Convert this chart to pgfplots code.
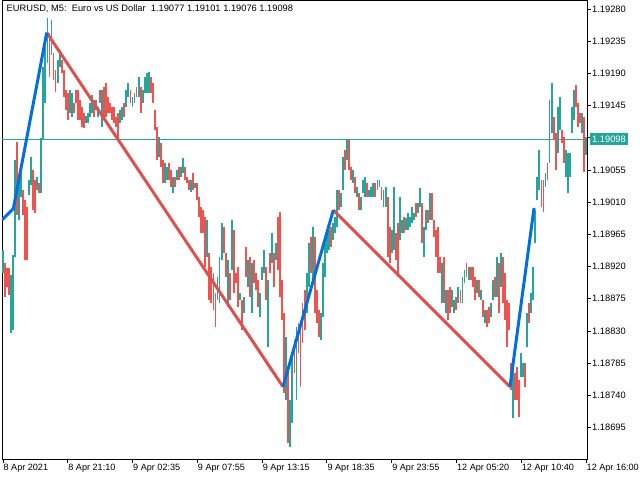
\documentclass[border=0pt]{standalone}
\usepackage{fontspec}
\setmainfont{Liberation Sans}
\usepackage{pgfplots}
\usepackage{pgfplotstable}
\pgfplotsset{compat=1.18}
\definecolor{upc}{RGB}{38,166,154}
\definecolor{dnc}{RGB}{239,83,80}
\definecolor{zzb}{RGB}{0,112,224}
\definecolor{zzr}{RGB}{221,81,76}
% EURUSD M5 candles: bar index, low, high (price in points, 1 point = 0.00001)
% rising candles
\pgfplotstableread{
b lo hi
0 18911 18943
8 18827 18908
10 18831 18936
12 18933 19069
16 18985 19048
18 19017 19051
26 19020 19041
28 19034 19073
34 19027 19045
38 19023 19100
40 19097 19199
42 19149 19227
44 19205 19267
48 19216 19265
54 19177 19209
56 19199 19223
66 19135 19167
68 19129 19163
82 19121 19131
84 19121 19135
86 19129 19149
88 19135 19160
92 19139 19153
94 19129 19143
98 19115 19167
116 19121 19139
118 19125 19143
122 19143 19167
124 19157 19177
128 19143 19157
130 19149 19163
134 19157 19185
138 19149 19167
140 19163 19185
142 19163 19191
144 19163 19192
154 19073 19101
160 19037 19065
162 19041 19059
168 19023 19045
172 19041 19055
176 19045 19059
178 19051 19072
186 19024 19041
190 19030 19037
202 18933 18985
212 18873 18906
214 18869 18933
216 18929 18981
222 18864 18929
226 18915 18985
234 18873 18883
238 18855 18878
242 18892 18929
246 18855 18925
254 18850 18883
256 18901 18920
258 18911 18943
262 18808 18901
266 18925 18967
270 18929 18953
280 18734 18822
284 18668 18734
286 18701 18799
290 18734 18836
300 18855 18911
302 18892 18953
306 18897 18975
314 18817 18855
316 18850 18925
318 18906 18953
320 18939 18967
322 18943 18971
326 18957 18981
328 18967 18989
330 18975 19027
334 19003 19023
336 19027 19073
340 19069 19097
346 19037 19055
350 19017 19031
354 18999 19017
356 19023 19041
358 19017 19045
362 19017 19027
364 19017 19031
366 19017 19037
370 19027 19041
372 19031 19041
376 19003 19027
378 19003 19031
384 18939 18971
386 18943 19031
392 18957 19017
394 18967 18985
398 18971 18988
400 18971 18995
402 18975 18989
404 18981 19003
406 18985 18995
410 18995 19009
412 19003 19030
416 18933 18975
418 18971 18999
422 18985 19023
434 18869 18925
438 18855 18887
444 18864 18887
446 18855 18873
450 18869 18892
454 18869 18906
456 18897 18915
460 18901 18920
468 18883 18901
472 18873 18887
476 18841 18859
482 18850 18869
484 18873 18901
488 18878 18933
492 18892 18939
504 18708 18776
512 18766 18799
514 18766 18785
518 18808 18855
522 18855 18883
524 18873 18920
526 18953 18999
528 19013 19045
530 19027 19083
536 19031 19051
540 19065 19153
542 19107 19177
548 19079 19143
550 19111 19157
556 19045 19083
558 19023 19079
560 19045 19079
562 19107 19143
564 19125 19167
572 19107 19135
576 19076 19101
}\upcandles
% falling candles
\pgfplotstableread{
b lo hi
2 18878 18925
4 18892 18918
6 18880 18918
14 18992 19094
20 18992 19027
22 18929 19013
24 18929 19003
30 18999 19055
32 18995 19041
36 19023 19037
46 19185 19246
50 19181 19219
52 19164 19195
58 19191 19209
60 19157 19195
62 19139 19167
64 19125 19163
70 19135 19149
72 19149 19167
74 19125 19167
76 19125 19153
78 19115 19143
80 19114 19135
90 19129 19153
96 19149 19167
100 19129 19171
102 19129 19177
104 19135 19157
106 19135 19149
108 19125 19143
110 19121 19143
112 19115 19129
114 19097 19135
120 19129 19149
126 19149 19167
132 19157 19171
136 19135 19171
146 19163 19185
148 19149 19177
150 19111 19139
152 19069 19115
156 19059 19093
158 19037 19069
164 19041 19065
166 19031 19055
170 19031 19045
174 19041 19059
180 19041 19059
182 19037 19045
184 19027 19041
188 19027 19051
192 19013 19037
194 18989 19017
196 18967 19003
198 18967 18999
200 18920 18989
204 18873 18939
206 18869 18920
208 18859 18911
210 18836 18883
218 18939 18975
220 18906 18939
224 18873 18911
228 18883 18971
230 18897 18911
232 18864 18920
236 18831 18873
240 18906 18947
244 18878 18933
248 18897 18929
250 18887 18911
252 18864 18901
260 18873 18920
264 18911 18939
268 18892 18939
272 18915 18989
274 18878 18996
276 18845 18901
278 18743 18855
282 18673 18780
288 18771 18817
292 18799 18841
294 18752 18841
296 18813 18869
298 18831 18887
304 18911 18961
308 18855 18961
310 18841 18887
312 18822 18859
324 18947 18975
332 18999 19027
338 19055 19083
342 19055 19097
344 19041 19059
348 19023 19045
352 18999 19023
360 19017 19037
368 19017 19037
374 19013 19031
380 18933 19017
382 18925 18975
388 18929 18967
390 18906 18981
396 18967 18989
408 18989 19009
414 18953 19009
420 18981 18999
424 18985 19023
426 18961 18985
428 18933 18971
430 18911 18975
432 18911 18933
436 18869 18933
440 18845 18887
442 18855 18892
448 18859 18878
452 18869 18887
458 18906 18925
462 18901 18920
464 18892 18920
466 18873 18906
470 18878 18901
474 18850 18873
478 18836 18859
480 18841 18864
486 18878 18906
490 18855 18925
494 18869 18933
496 18845 18911
498 18808 18873
500 18831 18869
502 18748 18785
506 18734 18771
508 18734 18780
510 18710 18762
516 18752 18785
520 18841 18869
532 19003 19041
534 18996 19041
538 19041 19065
544 19097 19129
546 19055 19107
552 19093 19111
554 19065 19101
566 19143 19174
568 19115 19149
570 19121 19135
574 19052 19129
}\downcandles

\begin{document}
\begin{tikzpicture}
\begin{axis}[
  scale only axis, width=585pt, height=459pt,
  xmin=-0.9, xmax=577, ymin=18651.1, ymax=19292.6,
  clip mode=individual,
  axis line style={black, line width=0.8pt},
  tick align=outside, xtick pos=bottom, ytick pos=right,
  yticklabel pos=right,
  major tick length=4pt,
  tick style={black, line width=0.8pt},
  xtick={0,64,128,192,256,320,384,448,512,576},
  xticklabels={8 Apr 2021, 8 Apr 21:10, 9 Apr 02:35, 9 Apr 07:55, 9 Apr 13:15, 9 Apr 18:35, 9 Apr 23:55, 12 Apr 05:20, 12 Apr 10:40, 12 Apr 16:00},
  x tick label style={anchor=north west, xshift=-0.5pt, inner sep=1pt, font=\fontsize{9.1}{10}\selectfont},
  ytick={18695,18740,18785,18830,18875,18920,18965,19010,19055,19100,19145,19190,19235,19280},
  yticklabels={1.18695,1.18740,1.18785,1.18830,1.18875,1.18920,1.18965,1.19010,1.19055,1.19100,1.19145,1.19190,1.19235,1.19280},
  y tick label style={anchor=west, inner sep=1pt, font=\fontsize{9.3}{10}\selectfont},
]
% current price line
\addplot[upc, line width=0.8pt, forget plot] coordinates {(-0.9,19098) (577,19098)};
% rising candles (vertical high-low strokes)
\addplot[forget plot, mark=none, draw=upc, line width=1.9pt,
  quiver={u=0, v=\thisrow{hi}-\thisrow{lo}, every arrow/.append style={draw=upc, line width=1.9pt}}]
  table[x=b, y=lo] {\upcandles};
% falling candles
\addplot[forget plot, mark=none, draw=dnc, line width=1.9pt,
  quiver={u=0, v=\thisrow{hi}-\thisrow{lo}, every arrow/.append style={draw=dnc, line width=1.9pt}}]
  table[x=b, y=lo] {\downcandles};
% zigzag
\addplot[zzr, line width=3pt, forget plot] coordinates {(43.3,19247) (276.7,18752)};
\addplot[zzr, line width=3pt, forget plot] coordinates {(326.4,18999) (500.9,18752)};
\addplot[zzb, line width=3pt, forget plot] coordinates {(-0.9,18985) (10.3,19001) (43.3,19247)};
\addplot[zzb, line width=3pt, forget plot] coordinates {(276.7,18752) (326.4,18999)};
\addplot[zzb, line width=3pt, forget plot] coordinates {(500.9,18752) (524.7,19002)};
% title
\node[anchor=north west, inner sep=0pt, font=\fontsize{9.3}{10}\selectfont]
  at (rel axis cs:0,1) [xshift=4.5pt, yshift=-5pt]
  {EURUSD, M5:\ \ Euro vs US Dollar\ \ 1.19077 1.19101 1.19076 1.19098};
% current price tag
\node[anchor=west, fill=upc, text=white, inner xsep=2pt, inner ysep=0pt,
  minimum height=12pt, font=\fontsize{9.3}{10}\selectfont]
  at (axis cs:577,19098) [xshift=3pt] {1.19098};
\end{axis}
\pgfresetboundingbox
\useasboundingbox ([shift={(-2pt,-21pt)}]current axis.south west) rectangle ([shift={(53pt,0pt)}]current axis.north east);
\end{tikzpicture}
\end{document}
